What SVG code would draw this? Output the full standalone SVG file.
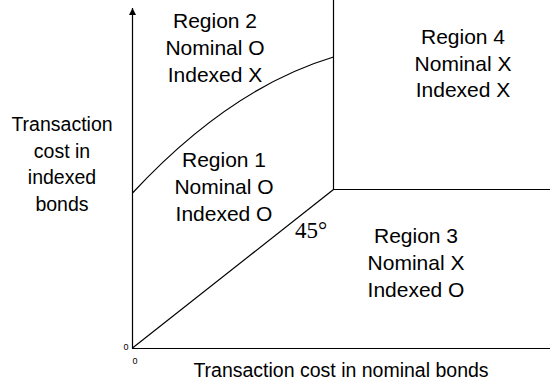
<svg xmlns="http://www.w3.org/2000/svg" width="550" height="387" viewBox="0 0 550 387">
<style>
.ln{fill:none;stroke:#000;stroke-width:1.2}
.rg{font-family:"Liberation Sans",Arial,sans-serif;font-size:21px;fill:#000;text-anchor:middle}
.ax{font-family:"Liberation Sans",Arial,sans-serif;font-size:19.5px;fill:#000;text-anchor:middle}
.z{font-family:"Liberation Sans",Arial,sans-serif;font-size:9px;fill:#000}
.dg{font-family:"Liberation Serif","Times New Roman",serif;font-size:23px;fill:#000}
</style>
<defs>
<marker id="arr" markerWidth="8" markerHeight="8" refX="7" refY="3.5" orient="auto" markerUnits="userSpaceOnUse" viewBox="0 0 8 8">
<path d="M0,0 L7,3.5 L0,7 Z" fill="#000"/>
</marker>
</defs>
<rect width="550" height="387" fill="#fff"/>
<g id="connectors">
<line class="ln" x1="132.5" y1="348.5" x2="132.5" y2="8" marker-end="url(#arr)"/>
<line class="ln" x1="132" y1="348.5" x2="550" y2="348.5"/>
<line class="ln" x1="132.5" y1="348" x2="333.5" y2="189.5"/>
<line class="ln" x1="333.5" y1="0" x2="333.5" y2="189.5"/>
<line class="ln" x1="333" y1="189.5" x2="550" y2="189.5"/>
<path class="ln" d="M132.5,193 Q230,88 333.5,57"/>
</g>
<g id="region1">
<text class="rg" x="224" y="167">Region 1</text>
<text class="rg" x="224" y="194">Nominal O</text>
<text class="rg" x="224" y="221">Indexed O</text>
</g>
<g id="region2">
<text class="rg" x="215" y="28">Region 2</text>
<text class="rg" x="215" y="55">Nominal O</text>
<text class="rg" x="215" y="82">Indexed X</text>
</g>
<g id="region3">
<text class="rg" x="416" y="243">Region 3</text>
<text class="rg" x="416" y="270">Nominal X</text>
<text class="rg" x="416" y="297">Indexed O</text>
</g>
<g id="region4">
<text class="rg" x="463" y="44">Region 4</text>
<text class="rg" x="463" y="71">Nominal X</text>
<text class="rg" x="463" y="97">Indexed X</text>
</g>
<g id="ylabel">
<text class="ax" x="62" y="131">Transaction</text>
<text class="ax" x="62" y="158">cost in</text>
<text class="ax" x="62" y="184">indexed</text>
<text class="ax" x="62" y="211">bonds</text>
</g>
<g id="xlabel">
<text class="ax" x="341" y="377">Transaction cost in nominal bonds</text>
</g>
<g id="labels">
<text class="z" x="123.5" y="349.5">0</text>
<text class="z" x="132.5" y="363.5">0</text>
<text class="dg" x="295" y="238">45°</text>
</g>
</svg>
